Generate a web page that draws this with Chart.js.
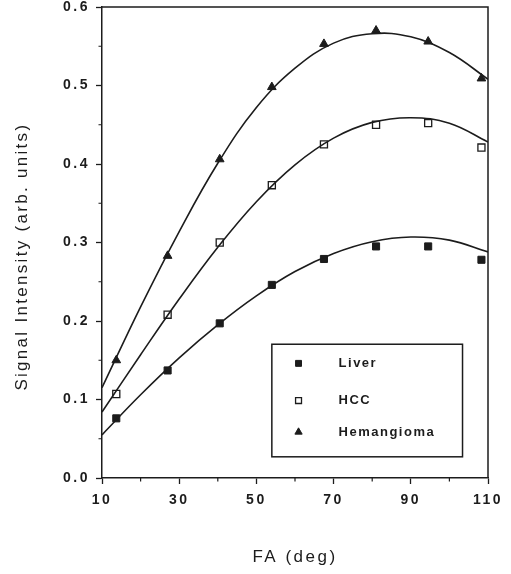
<!DOCTYPE html>
<html>
<head>
<meta charset="utf-8">
<script src="https://cdn.jsdelivr.net/npm/chart.js@4/dist/chart.umd.min.js"></script>
<style>
  html, body { margin: 0; padding: 0; background: #fff; }
  #wrap { width: 511px; height: 574px; }
</style>
</head>
<body>
<div id="wrap"><canvas id="chart"></canvas></div>
<script>
// ===== DATA =====
// measured points (flip angle, deg)
const faPoints = [13.7, 27, 40.5, 54, 67.5, 81, 94.5, 108.3];
const liverPoints = [0.076, 0.137, 0.197, 0.246, 0.279, 0.295, 0.295, 0.278];
const hccPoints = [0.107, 0.208, 0.300, 0.373, 0.425, 0.450, 0.452, 0.421];
const hemPoints = [0.150, 0.283, 0.406, 0.498, 0.553, 0.570, 0.556, 0.509];

// fitted curves
const faFit = [10, 20, 30, 40, 50, 60, 70, 80, 90, 100, 110];
const liverFit = [0.055, 0.106, 0.153, 0.195, 0.232, 0.263, 0.286, 0.301, 0.307, 0.303, 0.288];
const hccFit = [0.084, 0.157, 0.228, 0.294, 0.352, 0.399, 0.433, 0.453, 0.459, 0.452, 0.428];
const hemFit = [0.115, 0.218, 0.314, 0.401, 0.472, 0.522, 0.554, 0.566, 0.562, 0.542, 0.508];

const seriesNames = ["Liver", "HCC", "Hemangioma"];
const xTickLabels = [10, 30, 50, 70, 90, 110];
const yTickLabels = [0.0, 0.1, 0.2, 0.3, 0.4, 0.5, 0.6];
const yTitle = "Signal Intensity (arb. units)";

const INK = "#1c1c1c";
const FONT = "'Liberation Sans', Arial, Helvetica, sans-serif";

function pts(xs, ys) {
  return xs.map((x, i) => ({ x: x, y: ys[i] }));
}

function fitLine(ys) {
  return {
    data: pts(faFit, ys),
    showLine: true,
    borderColor: INK,
    borderWidth: 1.6,
    pointRadius: 0,
    tension: 0.4,
    fill: false
  };
}

const markerStyles = [
  { pointStyle: "rect", pointRadius: 5, pointBackgroundColor: INK, pointBorderColor: INK, pointBorderWidth: 1 },
  { pointStyle: "rect", pointRadius: 5, pointBackgroundColor: "#fff", pointBorderColor: INK, pointBorderWidth: 1.3 },
  { pointStyle: "triangle", pointRadius: 5, pointBackgroundColor: INK, pointBorderColor: INK, pointBorderWidth: 1 }
];

function markerSet(ys, idx) {
  return Object.assign({
    label: seriesNames[idx],
    data: pts(faPoints, ys),
    showLine: false
  }, markerStyles[idx]);
}

// major ticks only get the long tick mark, minor ones are drawn short below
const majorTickColor = (c) => (c.tick && c.tick.label !== "") ? INK : "rgba(0,0,0,0)";

// ===== PLUGINS =====
const spacingPlugin = {
  id: "spacing",
  beforeDraw(chart) {
    chart.ctx.letterSpacing = "2.5px";
  }
};

const framePlugin = {
  id: "frame",
  afterDraw(chart) {
    const { ctx, chartArea: a, scales } = chart;
    ctx.save();
    ctx.strokeStyle = INK;
    ctx.lineWidth = 1.5;
    ctx.beginPath();
    ctx.moveTo(a.left, a.top);
    ctx.lineTo(a.right, a.top);
    ctx.lineTo(a.right, a.bottom);
    ctx.stroke();

    // short minor ticks
    ctx.lineWidth = 1.2;
    ctx.beginPath();
    scales.x.ticks.forEach(t => {
      if (t.label !== "") return;
      const px = scales.x.getPixelForValue(t.value);
      ctx.moveTo(px, a.bottom);
      ctx.lineTo(px, a.bottom + 3.5);
    });
    scales.y.ticks.forEach(t => {
      if (t.label !== "") return;
      const py = scales.y.getPixelForValue(t.value);
      ctx.moveTo(a.left, py);
      ctx.lineTo(a.left - 3.5, py);
    });
    ctx.stroke();

    // y axis title, sits a little below the middle of the axis in the original
    ctx.translate(22, a.top + (a.bottom - a.top) * 0.53);
    ctx.rotate(-Math.PI / 2);
    ctx.font = "17px " + FONT;
    ctx.letterSpacing = "2.3px";
    ctx.fillStyle = INK;
    ctx.textAlign = "center";
    ctx.textBaseline = "middle";
    ctx.fillText(yTitle, 0, 0);
    ctx.restore();
  }
};

const legendBoxPlugin = {
  id: "legendBox",
  afterDraw(chart) {
    const { ctx, chartArea: a } = chart;
    const w = a.right - a.left, h = a.bottom - a.top;
    const bx = a.left + w * 0.44, by = a.top + h * 0.716;
    const bw = w * 0.494, bh = h * 0.239;
    ctx.save();
    ctx.strokeStyle = INK;
    ctx.lineWidth = 1.5;
    ctx.strokeRect(bx, by, bw, bh);
    ctx.font = "bold 13px " + FONT;
    ctx.letterSpacing = "1.5px";
    ctx.textBaseline = "middle";
    const rows = [by + bh * 0.17, by + bh * 0.50, by + bh * 0.78];
    seriesNames.forEach((name, i) => {
      const st = markerStyles[i];
      ctx.fillStyle = st.pointBackgroundColor;
      ctx.strokeStyle = st.pointBorderColor;
      ctx.lineWidth = st.pointBorderWidth;
      Chart.helpers.drawPoint(ctx, {
        pointStyle: st.pointStyle,
        radius: 4.2,
        borderWidth: st.pointBorderWidth
      }, bx + bw * 0.14, rows[i]);
      ctx.fillStyle = INK;
      ctx.fillText(name, bx + bw * 0.35, rows[i]);
    });
    ctx.restore();
  }
};

// ===== CHART =====
const datasets = [
  fitLine(liverFit), fitLine(hccFit), fitLine(hemFit),
  markerSet(liverPoints, 0), markerSet(hccPoints, 1), markerSet(hemPoints, 2)
];

new Chart(document.getElementById("chart"), {
  type: "scatter",
  data: { datasets: datasets },
  plugins: [spacingPlugin, framePlugin, legendBoxPlugin],
  options: {
    responsive: true,
    maintainAspectRatio: false,
    animation: false,
    layout: { padding: { left: 0, right: 23, top: 7, bottom: 0 } },
    plugins: { legend: { display: false }, tooltip: { enabled: false } },
    scales: {
      x: {
        type: "linear",
        min: 10,
        max: 110,
        afterFit(scale) { scale.height = 96; },
        border: { display: true, color: INK, width: 1.5 },
        grid: { drawOnChartArea: false, tickColor: majorTickColor, tickLength: 6, tickWidth: 1.3 },
        ticks: {
          stepSize: 10,
          autoSkip: false,
          maxRotation: 0,
          padding: 8,
          color: INK,
          font: { family: FONT, size: 14, weight: "bold" },
          callback: (v) => xTickLabels.includes(v) ? String(v) : ""
        },
        title: {
          display: true,
          text: "FA (deg)",
          color: INK,
          font: { family: FONT, size: 17 },
          padding: { top: 0, bottom: 6 }
        }
      },
      y: {
        min: 0,
        max: 0.6,
        afterFit(scale) {
          scale.width = 102;
          scale.paddingTop = 0;
          scale.paddingBottom = 0;
        },
        border: { display: true, color: INK, width: 1.5 },
        grid: { drawOnChartArea: false, tickColor: majorTickColor, tickLength: 6, tickWidth: 1.3 },
        ticks: {
          stepSize: 0.05,
          autoSkip: false,
          padding: 6,
          color: INK,
          font: { family: FONT, size: 14, weight: "bold" },
          callback: (v) => {
            const hit = yTickLabels.find(t => Math.abs(t - v) < 1e-6);
            return hit !== undefined ? hit.toFixed(1) : "";
          }
        }
      }
    }
  }
});
</script>
</body>
</html>
